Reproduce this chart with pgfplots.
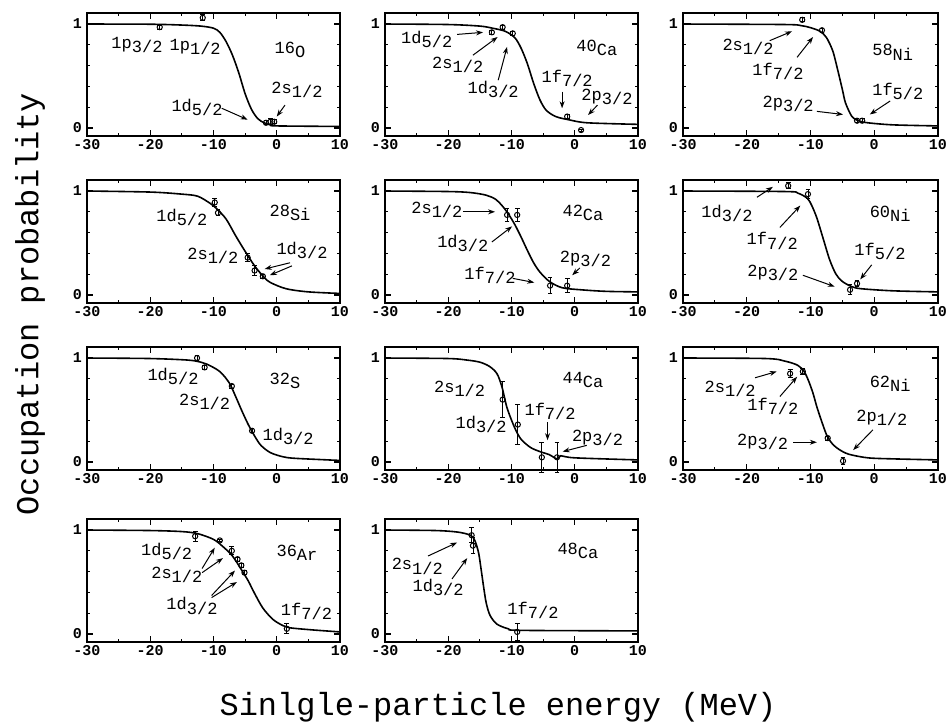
\documentclass[border=0pt]{standalone}
\usepackage{pgfplots}
\pgfplotsset{compat=1.18}
\usepackage{fontspec}
\setmainfont{Liberation Mono}
\usetikzlibrary{arrows.meta}

% level label: orbit letters with lowered j
\newcommand{\lab}[2]{#1\raisebox{-0.45ex}{#2}}
\newcommand{\nuc}[2]{#1\raisebox{-0.5ex}{#2}}

\pgfplotsset{
  panel/.style={
    scale only axis, width=126.5pt, height=61.5pt, anchor=north west,
    xmin=-30, xmax=10, ymin=-0.077, ymax=1.106,
    xtick={-30,-20,-10,0,10}, xticklabels={-30,-20,-10,0,10},
    ytick={0,1}, yticklabels={0,1},
    minor xtick={-25,-15,-5,5}, minor ytick={0.2,0.4,0.6,0.8},
    tick align=inside, major tick length=3pt, minor tick length=1.6pt,
    every tick/.style={black, line width=0.6pt},
    axis line style={line width=0.8pt},
    tick label style={font=\fontsize{7.5}{8}\selectfont\bfseries},
    xticklabel style={yshift=2pt}, yticklabel style={xshift=1pt},
    clip=false},
  curve/.style={black, line width=0.8pt, smooth, tension=0.5, no marks},
  pts/.style={black, only marks, mark=o, mark size=1.3pt, line width=0.5pt,
    error bars/y dir=both, error bars/y explicit,
    error bars/error mark options={rotate=90, mark size=1.2pt, line width=0.5pt}},
}
\tikzset{
  lbl/.style={font=\fontsize{8.5}{9}\selectfont, inner sep=0pt},
  arr/.style={-{Stealth[length=3.5pt,width=2.5pt]}, line width=0.5pt},
}

\begin{document}
\begin{tikzpicture}
\useasboundingbox (0,0) rectangle (474.5pt,-364pt);

% ---------- row 1 ----------
\begin{axis}[panel, at={(43.5pt,-6.5pt)}]
\addplot[curve] coordinates {(-30,1.0) (-20,0.998) (-15,0.99) (-12,0.98) (-10,0.96) (-9,0.92) (-8,0.83) (-7,0.70) (-6,0.53) (-5,0.33) (-4,0.18) (-3,0.09) (-2,0.05) (-1,0.03) (0,0.02) (10,0.015)};
\addplot[pts] coordinates {(-18.5,0.97) +- (0,0.02) (-11.7,1.06) +- (0,0.03) (-1.7,0.05) +- (0,0.02) (-1.0,0.06) +- (0,0.03) (-0.4,0.06) +- (0,0.02)};
\node[lbl] at (axis cs:-22.1,0.80) {\lab{1p}{3/2}};
\node[lbl] at (axis cs:-12.9,0.78) {\lab{1p}{1/2}};
\node[lbl] at (axis cs:2.1,0.75) {\nuc{16}{O}};
\node[lbl] at (axis cs:3.2,0.37) {\lab{2s}{1/2}};
\draw[arr] (axis cs:1.3,0.22) -- (axis cs:0.0,0.11);
\node[lbl] at (axis cs:-12.6,0.20) {\lab{1d}{5/2}};
\draw[arr] (axis cs:-8.7,0.19) -- (axis cs:-4.6,0.08);
\end{axis}

\begin{axis}[panel, at={(192.5pt,-6.5pt)}]
\addplot[curve] coordinates {(-30,1.0) (-20,0.995) (-15,0.98) (-13,0.96) (-11,0.93) (-9.5,0.87) (-8.5,0.77) (-7.5,0.62) (-6.5,0.43) (-5.5,0.27) (-4.5,0.17) (-3,0.11) (-1,0.08) (2,0.05) (10,0.035)};
\addplot[pts] coordinates {(-13.1,0.92) +- (0,0.02) (-11.4,0.97) +- (0,0.02) (-9.8,0.91) +- (0,0.02) (-1.2,0.11) +- (0,0.02) (1.0,-0.02) +- (0,0.01)};
\node[lbl] at (axis cs:-23.4,0.85) {\lab{1d}{5/2}};
\draw[arr] (axis cs:-18.6,0.90) -- (axis cs:-14.5,0.92);
\node[lbl] at (axis cs:-18.5,0.61) {\lab{2s}{1/2}};
\draw[arr] (axis cs:-16.1,0.70) -- (axis cs:-12.2,0.875);
\node[lbl] at (axis cs:-12.9,0.37) {\lab{1d}{3/2}};
\draw[arr] (axis cs:-12.1,0.46) -- (axis cs:-10.7,0.78);
\node[lbl] at (axis cs:-1.2,0.48) {\lab{1f}{7/2}};
\draw[arr] (axis cs:-2.0,0.35) -- (axis cs:-2.0,0.19);
\node[lbl] at (axis cs:5.1,0.30) {\lab{2p}{3/2}};
\draw[arr] (axis cs:3.6,0.22) -- (axis cs:2.1,0.125);
\node[lbl] at (axis cs:3.5,0.77) {\nuc{40}{Ca}};
\end{axis}

\begin{axis}[panel, width=127.5pt, at={(341.5pt,-6.5pt)}]
\addplot[curve] coordinates {(-30,1.0) (-14,0.995) (-11.5,0.985) (-10,0.965) (-8.5,0.93) (-7.5,0.87) (-6.5,0.74) (-5.7,0.55) (-5,0.37) (-4.5,0.24) (-3.5,0.11) (-2.5,0.07) (-1,0.05) (3,0.03) (10,0.02)};
\addplot[pts] coordinates {(-11.3,1.04) +- (0,0.02) (-8.2,0.94) +- (0,0.02) (-2.7,0.07) +- (0,0.02) (-1.9,0.07) +- (0,0.02)};
\node[lbl] at (axis cs:-19.8,0.78) {\lab{2s}{1/2}};
\draw[arr] (axis cs:-16.4,0.84) -- (axis cs:-12.9,0.93);
\node[lbl] at (axis cs:-15.1,0.54) {\lab{1f}{7/2}};
\draw[arr] (axis cs:-12.1,0.68) -- (axis cs:-9.6,0.875);
\node[lbl] at (axis cs:-13.5,0.23) {\lab{2p}{3/2}};
\draw[arr] (axis cs:-9.0,0.16) -- (axis cs:-4.9,0.13);
\node[lbl] at (axis cs:3.7,0.35) {\lab{1f}{5/2}};
\draw[arr] (axis cs:2.5,0.26) -- (axis cs:-0.7,0.13);
\node[lbl] at (axis cs:2.9,0.73) {\nuc{58}{Ni}};
\end{axis}

% ---------- row 2 ----------
\begin{axis}[panel, at={(43.5pt,-90pt)}]
\addplot[curve] coordinates {(-30,1.0) (-20,0.99) (-15,0.97) (-12.5,0.95) (-10.5,0.88) (-9.5,0.83) (-8,0.73) (-6.5,0.57) (-5,0.42) (-3.5,0.28) (-2,0.17) (-1,0.12) (1.5,0.06) (5,0.03) (10,0.015)};
\addplot[pts] coordinates {(-9.8,0.89) +- (0,0.04) (-9.3,0.79) +- (0,0.03) (-4.6,0.36) +- (0,0.04) (-3.5,0.235) +- (0,0.05) (-2.2,0.18) +- (0,0.02)};
\node[lbl] at (axis cs:-15.0,0.75) {\lab{1d}{5/2}};
\node[lbl] at (axis cs:-10.1,0.38) {\lab{2s}{1/2}};
\node[lbl] at (axis cs:4.0,0.43) {\lab{1d}{3/2}};
\draw[arr] (axis cs:2.1,0.31) -- (axis cs:-1.9,0.25);
\draw[arr] (axis cs:2.4,0.28) -- (axis cs:-1.1,0.19);
\node[lbl] at (axis cs:2.1,0.79) {\nuc{28}{Si}};
\end{axis}

\begin{axis}[panel, at={(192.5pt,-90pt)}]
\addplot[curve] coordinates {(-30,1.0) (-20,0.995) (-16.5,0.985) (-14,0.96) (-12.5,0.92) (-11.5,0.86) (-10.5,0.78) (-9.5,0.68) (-8.5,0.56) (-7.5,0.43) (-6.5,0.31) (-5.5,0.22) (-4,0.13) (-2,0.07) (1,0.05) (5,0.035) (10,0.03)};
\addplot[pts] coordinates {(-10.7,0.77) +- (0,0.06) (-9.1,0.77) +- (0,0.06) (-3.9,0.09) +- (0,0.08) (-1.2,0.09) +- (0,0.07)};
\node[lbl] at (axis cs:-21.8,0.82) {\lab{2s}{1/2}};
\draw[arr] (axis cs:-17.7,0.80) -- (axis cs:-12.6,0.80);
\node[lbl] at (axis cs:-17.7,0.50) {\lab{1d}{3/2}};
\draw[arr] (axis cs:-13.1,0.51) -- (axis cs:-9.9,0.66);
\node[lbl] at (axis cs:-13.4,0.19) {\lab{1f}{7/2}};
\draw[arr] (axis cs:-9.8,0.16) -- (axis cs:-6.4,0.12);
\node[lbl] at (axis cs:1.7,0.35) {\lab{2p}{3/2}};
\draw[arr] (axis cs:0.8,0.26) -- (axis cs:-0.4,0.19);
\node[lbl] at (axis cs:1.3,0.79) {\nuc{42}{Ca}};
\end{axis}

\begin{axis}[panel, width=127.5pt, at={(341.5pt,-90pt)}]
\addplot[curve] coordinates {(-30,1.0) (-14,0.995) (-12,0.98) (-10.5,0.93) (-9.8,0.86) (-9,0.74) (-8,0.54) (-7,0.34) (-6,0.20) (-5,0.13) (-3.5,0.08) (-2,0.06) (3,0.04) (10,0.03)};
\addplot[pts] coordinates {(-13.5,1.05) +- (0,0.03) (-10.4,0.97) +- (0,0.04) (-3.8,0.05) +- (0,0.05) (-2.7,0.11) +- (0,0.03)};
\node[lbl] at (axis cs:-23.1,0.78) {\lab{1d}{3/2}};
\draw[arr] (axis cs:-18.4,0.94) -- (axis cs:-15.9,1.04);
\node[lbl] at (axis cs:-16.0,0.52) {\lab{1f}{7/2}};
\draw[arr] (axis cs:-14.8,0.65) -- (axis cs:-11.6,0.86);
\node[lbl] at (axis cs:-15.9,0.21) {\lab{2p}{3/2}};
\draw[arr] (axis cs:-11.2,0.19) -- (axis cs:-6.2,0.08);
\node[lbl] at (axis cs:0.9,0.42) {\lab{1f}{5/2}};
\draw[arr] (axis cs:-0.4,0.29) -- (axis cs:-2.2,0.15);
\node[lbl] at (axis cs:2.5,0.78) {\nuc{60}{Ni}};
\end{axis}

% ---------- row 3 ----------
\begin{axis}[panel, at={(43.5pt,-173.5pt)}]
\addplot[curve] coordinates {(-30,1.0) (-20,0.995) (-14,0.98) (-12,0.96) (-11,0.94) (-9,0.87) (-7.5,0.76) (-6.5,0.63) (-5.5,0.49) (-4.5,0.36) (-3.5,0.25) (-2.5,0.16) (-1,0.09) (1,0.05) (3,0.035) (10,0.015)};
\addplot[pts] coordinates {(-12.6,1.0) +- (0,0.02) (-11.4,0.91) +- (0,0.02) (-7.1,0.73) +- (0,0.02) (-3.9,0.30) +- (0,0.02)};
\node[lbl] at (axis cs:-16.4,0.82) {\lab{1d}{5/2}};
\node[lbl] at (axis cs:-11.4,0.58) {\lab{2s}{1/2}};
\node[lbl] at (axis cs:1.8,0.25) {\lab{1d}{3/2}};
\node[lbl] at (axis cs:1.3,0.78) {\nuc{32}{S}};
\end{axis}

\begin{axis}[panel, at={(192.5pt,-173.5pt)}]
\addplot[curve] coordinates {(-30,1.0) (-20,0.995) (-17,0.98) (-15,0.96) (-13.5,0.92) (-12.3,0.85) (-11.5,0.72) (-10.7,0.52) (-9.5,0.33) (-8.5,0.22) (-7,0.14) (-5.5,0.10) (-4,0.07) (-3.2,0.04) (-2.7,0.03) (-2.2,0.06) (0,0.04) (10,0.02)};
\addplot[pts] coordinates {(-11.4,0.60) +- (0,0.17) (-9.0,0.36) +- (0,0.19) (-5.2,0.045) +- (0,0.145) (-2.8,0.045) +- (0,0.145)};
\node[lbl] at (axis cs:-18.2,0.70) {\lab{2s}{1/2}};
\node[lbl] at (axis cs:-14.8,0.36) {\lab{1d}{3/2}};
\node[lbl] at (axis cs:-3.9,0.49) {\lab{1f}{7/2}};
\draw[arr] (axis cs:-4.3,0.38) -- (axis cs:-4.3,0.21);
\node[lbl] at (axis cs:3.6,0.23) {\lab{2p}{3/2}};
\draw[arr] (axis cs:1.9,0.16) -- (axis cs:-1.9,0.10);
\node[lbl] at (axis cs:1.3,0.79) {\nuc{44}{Ca}};
\end{axis}

\begin{axis}[panel, width=127.5pt, at={(341.5pt,-173.5pt)}]
\addplot[curve] coordinates {(-30,1.0) (-17,0.995) (-14,0.97) (-12,0.93) (-11,0.87) (-10.3,0.78) (-9.6,0.66) (-9,0.53) (-8.3,0.40) (-7.4,0.25) (-6.5,0.17) (-5.5,0.12) (-4,0.075) (-1,0.04) (3,0.03) (10,0.02)};
\addplot[pts] coordinates {(-13.2,0.85) +- (0,0.04) (-11.2,0.87) +- (0,0.03) (-7.3,0.23) +- (0,0.02) (-4.9,0.01) +- (0,0.03)};
\node[lbl] at (axis cs:-22.6,0.70) {\lab{2s}{1/2}};
\draw[arr] (axis cs:-18.7,0.81) -- (axis cs:-15.3,0.87);
\node[lbl] at (axis cs:-15.9,0.53) {\lab{1f}{7/2}};
\draw[arr] (axis cs:-14.8,0.63) -- (axis cs:-12.1,0.82);
\node[lbl] at (axis cs:-17.5,0.19) {\lab{2p}{3/2}};
\draw[arr] (axis cs:-12.7,0.19) -- (axis cs:-9.0,0.19);
\node[lbl] at (axis cs:1.2,0.42) {\lab{2p}{1/2}};
\draw[arr] (axis cs:-0.2,0.31) -- (axis cs:-3.3,0.115);
\node[lbl] at (axis cs:2.5,0.75) {\nuc{62}{Ni}};
\end{axis}

% ---------- row 4 ----------
\begin{axis}[panel, at={(43.5pt,-259.5pt)}]
\addplot[curve] coordinates {(-30,1.0) (-20,0.995) (-15,0.985) (-12.5,0.965) (-10,0.91) (-8.5,0.84) (-7,0.75) (-5.5,0.61) (-4.5,0.51) (-3.5,0.39) (-2.2,0.25) (-0.6,0.14) (1,0.08) (2,0.06) (5.5,0.04) (10,0.02)};
\addplot[pts] coordinates {(-12.9,0.94) +- (0,0.05) (-9.0,0.90) +- (0,0.01) (-7.1,0.80) +- (0,0.04) (-6.2,0.72) +- (0,0.02) (-5.6,0.66) +- (0,0.02) (-5.1,0.59) +- (0,0.02) (1.6,0.05) +- (0,0.05)};
\node[lbl] at (axis cs:-17.4,0.79) {\lab{1d}{5/2}};
\node[lbl] at (axis cs:-15.8,0.57) {\lab{2s}{1/2}};
\node[lbl] at (axis cs:-13.4,0.27) {\lab{1d}{3/2}};
\draw[arr] (axis cs:-11.8,0.63) -- (axis cs:-9.8,0.83);
\draw[arr] (axis cs:-11.8,0.59) -- (axis cs:-8.5,0.73);
\draw[arr] (axis cs:-10.3,0.37) -- (axis cs:-6.6,0.61);
\draw[arr] (axis cs:-10.3,0.35) -- (axis cs:-6.3,0.50);
\node[lbl] at (axis cs:4.7,0.22) {\lab{1f}{7/2}};
\node[lbl] at (axis cs:3.2,0.78) {\nuc{36}{Ar}};
\end{axis}

\begin{axis}[panel, at={(192.5pt,-259.5pt)}]
\addplot[curve] coordinates {(-30,1.0) (-22,0.995) (-18.5,0.98) (-16.5,0.95) (-15.8,0.90) (-15.2,0.78) (-14.8,0.62) (-14.4,0.45) (-14,0.30) (-13.4,0.18) (-12.3,0.095) (-10.5,0.05) (-8.5,0.035) (10,0.03)};
\addplot[pts] coordinates {(-16.3,0.95) +- (0,0.07) (-16.1,0.85) +- (0,0.08) (-9.1,0.02) +- (0,0.08)};
\node[lbl] at (axis cs:-24.9,0.65) {\lab{2s}{1/2}};
\draw[arr] (axis cs:-23.2,0.75) -- (axis cs:-18.6,0.88);
\node[lbl] at (axis cs:-21.6,0.45) {\lab{1d}{3/2}};
\draw[arr] (axis cs:-19.4,0.53) -- (axis cs:-17.0,0.73);
\node[lbl] at (axis cs:-6.6,0.23) {\lab{1f}{7/2}};
\node[lbl] at (axis cs:0.5,0.80) {\nuc{48}{Ca}};
\end{axis}

\node[rotate=90, font=\fontsize{16}{17}\selectfont] at (15pt,-152pt) {Occupation probability};
\node[font=\fontsize{16}{17}\selectfont] at (249pt,-353.5pt) {Sinlgle-particle energy (MeV)};
\end{tikzpicture}
\end{document}
